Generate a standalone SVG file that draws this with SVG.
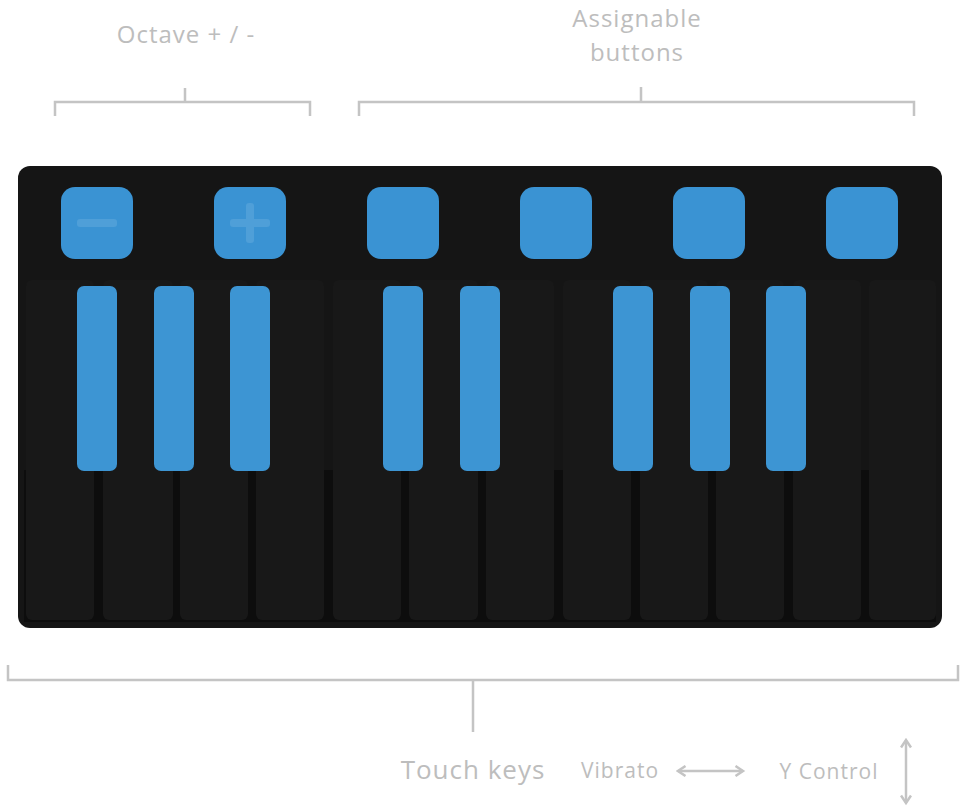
<svg xmlns="http://www.w3.org/2000/svg" width="970" height="810" viewBox="0 0 970 810">
<defs>
<style>
.t{font-family:"Open Sans","Liberation Sans",sans-serif;fill:#bdbdbd;letter-spacing:1px}
.br{stroke:#c4c4c4;stroke-width:2.5;fill:none}
.wk{fill:#181818}
.bk{fill:#3d95d3}
.bt{fill:#3a93d3}
</style>
<marker id="ah" viewBox="0 0 10 10" refX="8" refY="5" markerWidth="5" markerHeight="5" orient="auto-start-reverse"><path d="M2,1 L8,5 L2,9" fill="none" stroke="#c4c4c4" stroke-width="2"/></marker>
</defs>
<rect width="970" height="810" fill="#fff"/>
<g id="labels">
<text class="t" x="186" y="43" font-size="24" text-anchor="middle">Octave + / -</text>
<text class="t" x="637" y="27" font-size="24" text-anchor="middle">Assignable</text>
<text class="t" x="637" y="61" font-size="24" text-anchor="middle">buttons</text>
<text class="t" x="473" y="779" font-size="26" text-anchor="middle">Touch keys</text>
<text class="t" x="620" y="778" font-size="21" text-anchor="middle">Vibrato</text>
<text class="t" x="829" y="779" font-size="21" text-anchor="middle">Y Control</text>
</g>
<g id="connectors">
<path class="br" d="M55,116 V102 H310 V116 M185,102 V88"/>
<path class="br" d="M359,116 V102 H914 V116 M641,102 V87"/>
<path class="br" d="M8,665 V680 H958 V665 M473,680 V732"/>
<line class="br" x1="678" y1="771" x2="743" y2="771" marker-start="url(#ah)" marker-end="url(#ah)"/>
<line class="br" x1="906" y1="740" x2="906" y2="803" marker-start="url(#ah)" marker-end="url(#ah)"/>
</g>
<g id="keyboard">
<rect x="18" y="166" width="924" height="462" rx="12" fill="#151515"/>
<rect x="24" y="470" width="912" height="152" fill="#0d0d0d"/>
<g id="whitekeys">
<rect class="wk" x="26" y="280" width="68" height="340" rx="6"/>
<rect class="wk" x="103" y="280" width="70" height="340" rx="6"/>
<rect class="wk" x="180" y="280" width="68" height="340" rx="6"/>
<rect class="wk" x="256" y="280" width="68" height="340" rx="6"/>
<rect class="wk" x="333" y="280" width="68" height="340" rx="6"/>
<rect class="wk" x="409" y="280" width="69" height="340" rx="6"/>
<rect class="wk" x="486" y="280" width="68" height="340" rx="6"/>
<rect class="wk" x="563" y="280" width="68" height="340" rx="6"/>
<rect class="wk" x="640" y="280" width="68" height="340" rx="6"/>
<rect class="wk" x="716" y="280" width="68" height="340" rx="6"/>
<rect class="wk" x="793" y="280" width="68" height="340" rx="6"/>
<rect class="wk" x="869" y="280" width="67" height="340" rx="6"/>
</g>
<g id="blackkeys">
<rect class="bk" x="77" y="286" width="40" height="185" rx="7"/>
<rect class="bk" x="154" y="286" width="40" height="185" rx="7"/>
<rect class="bk" x="230" y="286" width="40" height="185" rx="7"/>
<rect class="bk" x="383" y="286" width="40" height="185" rx="7"/>
<rect class="bk" x="460" y="286" width="40" height="185" rx="7"/>
<rect class="bk" x="613" y="286" width="40" height="185" rx="7"/>
<rect class="bk" x="690" y="286" width="40" height="185" rx="7"/>
<rect class="bk" x="766" y="286" width="40" height="185" rx="7"/>
</g>
<g id="buttons">
<g id="btn-minus"><rect class="bt" x="61" y="187" width="72" height="72" rx="14"/><rect x="77" y="219" width="40" height="8" rx="3" fill="#4f9fd8"/></g>
<g id="btn-plus"><rect class="bt" x="214" y="187" width="72" height="72" rx="14"/><rect x="230" y="219" width="40" height="8" rx="3" fill="#4f9fd8"/><rect x="246" y="203" width="8" height="40" rx="3" fill="#4f9fd8"/></g>
<rect id="btn3" class="bt" x="367" y="187" width="72" height="72" rx="14"/>
<rect id="btn4" class="bt" x="520" y="187" width="72" height="72" rx="14"/>
<rect id="btn5" class="bt" x="673" y="187" width="72" height="72" rx="14"/>
<rect id="btn6" class="bt" x="826" y="187" width="72" height="72" rx="14"/>
</g>
</g>
</svg>
